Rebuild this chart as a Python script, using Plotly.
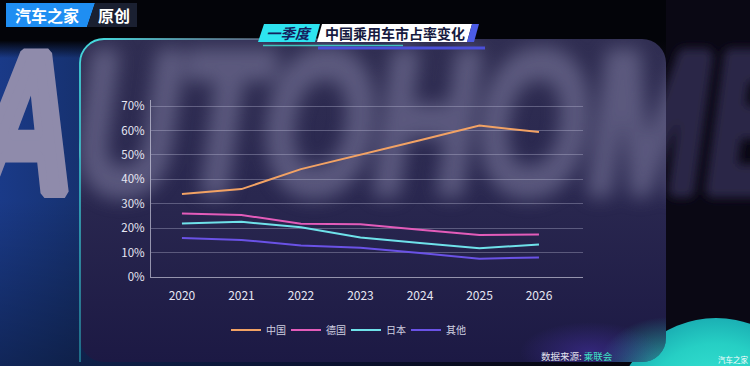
import base64
import plotly.graph_objects as go

# ---------------- data ----------------
years = ["2020", "2021", "2022", "2023", "2024", "2025", "2026"]
china = [34.0, 36.0, 44.2, 50.0, 56.0, 62.0, 59.4]
germany = [26.0, 25.4, 21.8, 21.6, 19.4, 17.2, 17.4]
japan = [21.9, 22.6, 20.4, 16.2, 13.9, 11.8, 13.3]
others = [16.0, 15.2, 12.9, 12.0, 9.8, 7.5, 8.0]
series_names = ["中国", "德国", "日本", "其他"]
series_colors = ["#f2a264", "#e35cba", "#6fe2ea", "#6a52e6"]
y_ticks = [0, 10, 20, 30, 40, 50, 60, 70]
y_tick_text = [f"{v}%" for v in y_ticks]

W, H = 750, 366
CJK = "Noto Sans CJK SC, Noto Sans, sans-serif"


def X(px):
    return px / W


def Y(py):
    return 1 - py / H


def svg_uri(svg):
    return "data:image/svg+xml;base64," + base64.b64encode(svg.encode("utf-8")).decode()


# decorative background picture: gradient, blurred brand watermark, frosted panel, glow
WM = ('<text x="-28" y="192" font-family="Liberation Sans, Arial, sans-serif" font-weight="bold" '
      'font-style="italic" font-size="200" textLength="830" lengthAdjust="spacingAndGlyphs" '
      'fill="{fill}" stroke="{fill}" stroke-width="11" stroke-linejoin="bevel" {extra}>AUTOHOME</text>')

bg_svg = f"""<svg xmlns="http://www.w3.org/2000/svg" width="{W}" height="{H}" viewBox="0 0 {W} {H}">
<defs>
<linearGradient id="bg" x1="0" y1="0" x2="1" y2="0">
<stop offset="0" stop-color="#1a3a88"/>
<stop offset="0.11" stop-color="#16316f"/>
<stop offset="0.45" stop-color="#101a48"/>
<stop offset="0.8" stop-color="#0a0916"/>
<stop offset="1" stop-color="#07060c"/>
</linearGradient>
<linearGradient id="vb" x1="0" y1="0" x2="0" y2="1">
<stop offset="0" stop-color="#000000" stop-opacity="0"/>
<stop offset="1" stop-color="#000000" stop-opacity="0.35"/>
</linearGradient>
<linearGradient id="top" x1="0" y1="0" x2="0" y2="1">
<stop offset="0" stop-color="#030409" stop-opacity="1"/>
<stop offset="0.7" stop-color="#030409" stop-opacity="1"/>
<stop offset="1" stop-color="#030409" stop-opacity="0"/>
</linearGradient>
<radialGradient id="teal" cx="0.5" cy="0.5" r="0.5">
<stop offset="0" stop-color="#44f2de"/>
<stop offset="0.75" stop-color="#26cfc4"/>
<stop offset="1" stop-color="#1bb0b4"/>
</radialGradient>
<linearGradient id="pf" x1="0" y1="0" x2="0" y2="1">
<stop offset="0" stop-color="#302e52"/>
<stop offset="0.5" stop-color="#29274f"/>
<stop offset="1" stop-color="#1c1944"/>
</linearGradient>
<linearGradient id="bt" gradientUnits="userSpaceOnUse" x1="100" y1="0" x2="420" y2="0">
<stop offset="0" stop-color="#46d8dc" stop-opacity="1"/>
<stop offset="0.6" stop-color="#8a8aa8" stop-opacity="0.45"/>
<stop offset="1" stop-color="#8a8aa8" stop-opacity="0.0"/>
</linearGradient>
<linearGradient id="bl" gradientUnits="userSpaceOnUse" x1="0" y1="40" x2="0" y2="362">
<stop offset="0" stop-color="#46d8dc" stop-opacity="1"/>
<stop offset="1" stop-color="#2fb6c4" stop-opacity="0.55"/>
</linearGradient>
<radialGradient id="glow" cx="0.5" cy="0.5" r="0.5">
<stop offset="0" stop-color="#2ad8c8" stop-opacity="0.8"/>
<stop offset="1" stop-color="#2ad8c8" stop-opacity="0"/>
</radialGradient>
<radialGradient id="pglow" cx="0.5" cy="0.5" r="0.5">
<stop offset="0" stop-color="#4a34b0" stop-opacity="0.5"/>
<stop offset="1" stop-color="#4a34b0" stop-opacity="0"/>
</radialGradient>
<filter id="blur" x="-10%" y="-30%" width="120%" height="160%"><feGaussianBlur stdDeviation="9"/></filter>
<filter id="blur2" x="-10%" y="-30%" width="120%" height="160%"><feGaussianBlur stdDeviation="5"/></filter>
<clipPath id="pc"><rect x="80" y="39" width="586" height="323" rx="24" ry="24"/></clipPath>
<clipPath id="rc"><rect x="666" y="0" width="84" height="{H}"/></clipPath>
</defs>
<rect width="{W}" height="{H}" fill="url(#bg)"/>
<rect y="200" width="{W}" height="166" fill="url(#vb)"/>
<rect width="{W}" height="58" fill="url(#top)"/>
{WM.format(fill="#8f8bab", extra="")}
<rect x="666" y="0" width="84" height="{H}" fill="#0a0814"/>
<g clip-path="url(#rc)">{WM.format(fill="#2c2646", extra='filter="url(#blur2)"')}</g>
<circle cx="716" cy="420" r="102" fill="url(#teal)"/>
<g clip-path="url(#pc)">
<rect x="80" y="39" width="586" height="323" fill="url(#pf)"/>
{WM.format(fill="#7a789c", extra='opacity="0.6" filter="url(#blur)"')}
<ellipse cx="668" cy="372" rx="72" ry="55" fill="url(#glow)"/>
<ellipse cx="590" cy="352" rx="70" ry="30" fill="url(#pglow)"/>
</g>
<path d="M80,362 V63 A24,24 0 0 1 104,39" fill="none" stroke="url(#bl)" stroke-width="1.8"/>
<path d="M104,39 H642" fill="none" stroke="url(#bt)" stroke-width="1.8"/>
</svg>"""

fig = go.Figure()

for name, vals, col in zip(series_names, [china, germany, japan, others], series_colors):
    fig.add_trace(go.Scatter(
        x=years, y=vals, mode="lines", name=name,
        line=dict(color=col, width=2), hoverinfo="skip"))

fig.update_layout(
    width=W, height=H,
    margin=dict(l=0, r=0, t=0, b=0, pad=0, autoexpand=False),
    paper_bgcolor="#0a0f25",
    plot_bgcolor="rgba(0,0,0,0)",
    xaxis=dict(
        domain=[X(151), X(583)], type="category", automargin=False,
        range=[-0.52, 6.74], showgrid=False, zeroline=False,
        showline=True, linecolor="rgba(225,225,240,0.6)", linewidth=1,
        ticks="", tickfont=dict(family=CJK, size=12, color="#e6e6f2"),
        ticklabelstandoff=8, fixedrange=True),
    yaxis=dict(
        domain=[Y(277), Y(100)], automargin=False,
        range=[0, 72.5], tickvals=y_ticks, ticktext=y_tick_text,
        showgrid=True, gridcolor="rgba(205,205,230,0.32)", gridwidth=1,
        zeroline=False, showline=True, linecolor="rgba(225,225,240,0.6)", linewidth=1,
        ticks="", tickfont=dict(family=CJK, size=11.5, color="#e6e6f2"),
        ticklabelstandoff=3, fixedrange=True),
    legend=dict(
        orientation="h", x=X(346), xanchor="center", y=Y(330), yanchor="middle",
        font=dict(family=CJK, size=10, color="#cfcfe0"),
        bgcolor="rgba(0,0,0,0)", entrywidth=15, entrywidthmode="pixels",
        itemclick=False, itemdoubleclick=False),
    showlegend=True,
)

fig.add_layout_image(dict(
    source=svg_uri(bg_svg), xref="paper", yref="paper", x=0, y=1,
    sizex=1, sizey=1, xanchor="left", yanchor="top", sizing="stretch", layer="below"))

shapes = []
# header badge
shapes.append(dict(type="path", path=f"M {X(6)},{Y(3)} L {X(95)},{Y(3)} L {X(87)},{Y(27)} L {X(6)},{Y(27)} Z",
                   fillcolor="#1f8ef2", line=dict(width=0)))
shapes.append(dict(type="path", path=f"M {X(95)},{Y(3)} L {X(137)},{Y(3)} L {X(137)},{Y(27)} L {X(87)},{Y(27)} Z",
                   fillcolor="#1a2031", line=dict(width=0)))
# title parallelograms
shapes.append(dict(type="path", path=f"M {X(264)},{Y(24)} L {X(320)},{Y(24)} L {X(315)},{Y(42)} L {X(258)},{Y(42)} Z",
                   fillcolor="#2ee4f0", line=dict(width=0)))
shapes.append(dict(type="path", path=f"M {X(322)},{Y(24)} L {X(472)},{Y(24)} L {X(467)},{Y(42)} L {X(317)},{Y(42)} Z",
                   fillcolor="#ffffff", line=dict(width=0)))
shapes.append(dict(type="path", path=f"M {X(472)},{Y(24)} L {X(479)},{Y(24)} L {X(474)},{Y(42)} L {X(467)},{Y(42)} Z",
                   fillcolor="#4c5ce6", line=dict(width=0)))
shapes.append(dict(type="line", x0=X(263), x1=X(403), y0=Y(45.5), y1=Y(45.5),
                   line=dict(color="#3fc2bb", width=1.5)))
shapes.append(dict(type="line", x0=X(318), x1=X(485), y0=Y(48), y1=Y(48),
                   line=dict(color="#4b4fd8", width=3)))
for s in shapes:
    s.update(xref="paper", yref="paper", layer="above")
fig.update_layout(shapes=shapes)

ann = [
    dict(x=X(47), y=Y(15), text="<b>汽车之家</b>", font=dict(family=CJK, size=16, color="#ffffff")),
    dict(x=X(114), y=Y(15), text="<b>原创</b>", font=dict(family=CJK, size=16, color="#ffffff")),
    dict(x=X(289), y=Y(33), text="<b><i>一季度</i></b>", font=dict(family=CJK, size=14.5, color="#14205e")),
    dict(x=X(395), y=Y(33), text="<b>中国乘用车市占率变化</b>", font=dict(family=CJK, size=14, color="#161a40")),
    dict(x=X(539), y=Y(356), xanchor="left",
         text="数据来源: <span style='color:#3fe3c6'>乘联会</span>",
         font=dict(family=CJK, size=9.5, color="#e4e4f0")),
    dict(x=X(733), y=Y(359), text="汽车之家", font=dict(family=CJK, size=7.5, color="#ffffff")),
]
for a in ann:
    a.setdefault("xanchor", "center")
    a.update(xref="paper", yref="paper", yanchor="middle", showarrow=False)
fig.update_layout(annotations=ann)

fig.write_html("out.html", config={"displayModeBar": False},
               post_script="document.body.style.margin='0';document.body.style.overflow='hidden';")
